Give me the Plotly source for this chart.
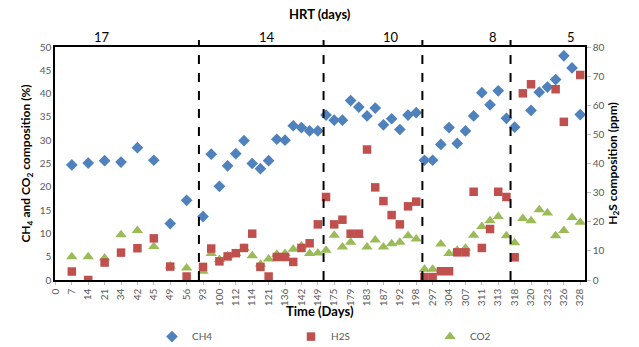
import plotly.graph_objects as go

# Tick labels (every second sample position is labelled)
day_labels = ["0", "7", "14", "21", "34", "42", "45", "49", "56", "93", "100", "112",
              "114", "121", "136", "142", "149", "175", "179", "183", "187", "192",
              "198", "297", "304", "307", "311", "313", "318", "320", "323", "326", "328"]
sample = list(range(65))
N = None

ch4 = [N, N, 24.7, N, 25.1, N, 25.6, N, 25.3, N, 28.4, N, 25.7, N, 12.1, N, 17.1, N,
       13.6, 27.0, 20.1, 24.5, 27.1, 29.9, 25.0, 23.9, 25.6, 30.2, 30.0, 33.1, 32.7,
       32.0, 32.0, 35.4, 34.3, 34.3, 38.5, 37.1, 35.2, 36.9, 33.3, 34.6, 32.3, 35.4,
       35.9, 25.7, 25.7, 29.1, 32.7, 29.3, 32.0, 35.2, 40.2, 37.6, 40.6, 34.7, 32.8,
       N, 36.4, 40.3, 41.4, 43.0, 48.1, 45.5, 35.5]

h2s = [N, N, 2.9, N, 0.0, N, 6.0, N, 9.4, N, 10.9, N, 14.3, N, 4.6, N, 1.2, N,
       4.5, 10.8, 6.4, 8.1, 9.2, 11.0, 15.9, 4.5, 1.2, 7.9, 7.9, 6.2, 11.0,
       12.6, 19.1, 28.5, 19.1, 20.7, 15.9, 15.9, 44.8, 31.8, 27.1, 22.3, 19.1, 25.3,
       26.9, 1.0, 1.0, 3.0, 3.0, 9.5, 9.5, 30.3, 11.0, 17.5, 30.3, 28.5, 7.8,
       64.1, 67.2, N, N, 65.5, 54.3, N, 70.4]

co2 = [N, N, 5.0, N, 5.0, N, 4.7, N, 9.7, N, 10.6, N, 7.2, N, 3.0, N, 2.6, N,
       1.9, 5.7, 4.4, 5.2, 5.7, 6.8, 5.2, 3.4, 4.5, 5.5, 5.7, 6.6, 7.3,
       5.7, 5.8, 6.4, 9.6, 7.1, 8.1, 9.6, 7.1, 8.6, 7.1, 7.8, 8.1, 9.5,
       8.8, 2.3, 2.3, 7.7, 5.7, 6.4, 6.8, 9.6, 11.5, 12.7, 13.6, 9.5, 8.0,
       13.2, 12.7, 15.1, 14.4, 9.5, 10.6, 13.4, 12.4]

hrt_labels = ["17", "14", "10", "8", "5"]
hrt_label_pos = [5.7, 25.8, 40.9, 53.3, 62.9]
hrt_bounds = [17.5, 32.7, 44.75, 55.5]

FONT = "Lato, 'Open Sans', sans-serif"
GRAY = "#595959"

fig = go.Figure()
fig.add_trace(go.Scatter(x=sample, y=ch4, mode="markers", name="CH4",
                         marker=dict(symbol="diamond", size=9, color="#4F81BD")))
fig.add_trace(go.Scatter(x=sample, y=h2s, mode="markers", name="H2S", yaxis="y2",
                         marker=dict(symbol="square", size=8.5, color="#C0504D")))
fig.add_trace(go.Scatter(x=sample, y=co2, mode="markers", name="CO2",
                         marker=dict(symbol="triangle-up", size=10, color="#9BBB59")))

shapes = []
for b in hrt_bounds:
    shapes.append(dict(type="line", xref="x", yref="paper", x0=b, x1=b, y0=0, y1=1.03,
                       line=dict(color="black", width=2, dash="dash")))

annotations = [
    dict(text="<b>HRT (days)</b>", xref="paper", yref="paper", x=0.5, y=1.14,
         showarrow=False, font=dict(size=13, color="black", family=FONT),
         xanchor="center", yanchor="middle"),
    dict(text="<b>Time (Days)</b>", xref="paper", yref="paper", x=0.5, y=-0.135,
         showarrow=False, font=dict(size=13, color="black", family=FONT),
         xanchor="center", yanchor="middle"),
]
for t, p in zip(hrt_labels, hrt_label_pos):
    annotations.append(dict(text=t, xref="x", yref="paper", x=p, y=1.0, showarrow=False,
                            font=dict(size=13, color="black", family=FONT),
                            xanchor="center", yanchor="bottom"))

fig.update_layout(
    width=639, height=347,
    margin=dict(l=55, r=54, t=47, b=67, autoexpand=False),
    paper_bgcolor="white", plot_bgcolor="white",
    font=dict(family=FONT, color=GRAY, size=10),
    showlegend=True,
    legend=dict(orientation="h", x=0.183, y=0.03, yref="container",
                xanchor="left", yanchor="middle",
                entrywidth=94, entrywidthmode="pixels",
                font=dict(size=10, color=GRAY)),
    xaxis=dict(range=[-0.05, 64.58], tickmode="array", automargin=False,
               tickvals=list(range(0, 65, 2)), ticktext=day_labels,
               tickangle=-90, tickfont=dict(size=10, color=GRAY),
               showgrid=False, zeroline=False, showline=True, linecolor="black",
               linewidth=1.5, mirror=True, ticks="outside", ticklen=3, tickcolor="#BFBFBF"),
    yaxis=dict(range=[0, 50], dtick=5, showgrid=False, zeroline=False,
               showline=True, linecolor="black", linewidth=1.5, automargin=False,
               tickfont=dict(size=10, color=GRAY), ticks="",
               title=dict(text="<b>CH<sub>4</sub> and CO<sub>2</sub> composition (%)</b>",
                          font=dict(size=12, color="black"), standoff=6)),
    yaxis2=dict(range=[0, 80], dtick=10, overlaying="y", side="right", showgrid=False,
                zeroline=False, showline=True, linecolor="black", linewidth=1.5,
                ticks="outside", ticklen=4, tickcolor="#BFBFBF", automargin=False,
                tickfont=dict(size=10, color=GRAY),
                title=dict(text="<b>H<sub>2</sub>S composition (ppm)</b>",
                           font=dict(size=12, color="black"), standoff=4)),
    shapes=shapes,
    annotations=annotations,
)

fig.write_html("out.html")
